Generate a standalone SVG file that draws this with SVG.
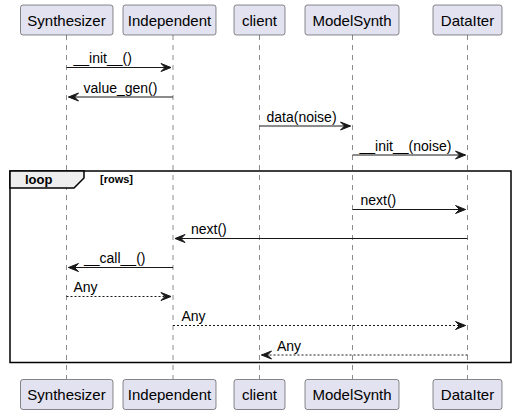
<svg xmlns="http://www.w3.org/2000/svg" width="516" height="415" viewBox="0 0 516 415">
<defs>
<style>
.box{fill:#E2E2F0;stroke:#181818;stroke-width:0.5}
.pt{font-family:"Liberation Sans",Arial,sans-serif;font-size:15px;fill:#000;text-anchor:middle}
.life{stroke:#181818;stroke-width:0.5;stroke-dasharray:5,5;fill:none}
.msg{stroke:#181818;stroke-width:1;fill:none}
.ret{stroke:#181818;stroke-width:1;stroke-dasharray:2,2;fill:none}
.ml{font-family:"Liberation Sans",Arial,sans-serif;font-size:14px;fill:#000}
.head{fill:#181818;stroke:#181818;stroke-width:1}
</style>
</defs>
<rect width="516" height="415" fill="#FFFFFF"/>
<g id="lifelines">
<line class="life" x1="66.5" y1="35" x2="66.5" y2="379"/>
<line class="life" x1="173" y1="35" x2="173" y2="379"/>
<line class="life" x1="259.5" y1="35" x2="259.5" y2="379"/>
<line class="life" x1="352.5" y1="35" x2="352.5" y2="379"/>
<line class="life" x1="467.5" y1="35" x2="467.5" y2="379"/>
</g>
<g id="loop">
<rect x="10" y="171" width="501" height="191.5" fill="none" stroke="#000" stroke-width="1.5"/>
<path d="M10,171 L84,171 L84,178 L74,188 L10,188 Z" fill="#EEEEEE" stroke="#000" stroke-width="1.5"/>
<text x="25" y="183.5" font-family="Liberation Sans,Arial,sans-serif" font-size="13" font-weight="bold">loop</text>
<text x="100" y="183" font-family="Liberation Sans,Arial,sans-serif" font-size="11" font-weight="bold">[rows]</text>
</g>
<g id="Synthesizer">
<rect class="box" x="20.5" y="5" width="92.5" height="30" rx="2.5"/>
<text class="pt" x="66.5" y="25.5">Synthesizer</text>
<rect class="box" x="20.5" y="379.5" width="92.5" height="30" rx="2.5"/>
<text class="pt" x="66.5" y="400">Synthesizer</text>
</g>
<g id="Independent">
<rect class="box" x="123" y="5" width="93" height="30" rx="2.5"/>
<text class="pt" x="169.5" y="25.5">Independent</text>
<rect class="box" x="123" y="379.5" width="93" height="30" rx="2.5"/>
<text class="pt" x="169.5" y="400">Independent</text>
</g>
<g id="client">
<rect class="box" x="234" y="5" width="51" height="30" rx="2.5"/>
<text class="pt" x="259.5" y="25.5">client</text>
<rect class="box" x="234" y="379.5" width="51" height="30" rx="2.5"/>
<text class="pt" x="259.5" y="400">client</text>
</g>
<g id="ModelSynth">
<rect class="box" x="305" y="5" width="94" height="30" rx="2.5"/>
<text class="pt" x="352" y="25.5">ModelSynth</text>
<rect class="box" x="305" y="379.5" width="94" height="30" rx="2.5"/>
<text class="pt" x="352" y="400">ModelSynth</text>
</g>
<g id="DataIter">
<rect class="box" x="433" y="5" width="69" height="30" rx="2.5"/>
<text class="pt" x="467.5" y="25.5">DataIter</text>
<rect class="box" x="433" y="379.5" width="69" height="30" rx="2.5"/>
<text class="pt" x="467.5" y="400">DataIter</text>
</g>
<g id="connectors">
<line class="msg" x1="66.5" y1="67.5" x2="171" y2="67.5"/>
<polygon class="head" points="161,63.5 171,67.5 161,71.5 165,67.5"/>
<text class="ml" x="73.5" y="63">__init__()</text>

<line class="msg" x1="68.5" y1="97" x2="173" y2="97"/>
<polygon class="head" points="78.5,93 68.5,97 78.5,101 74.5,97"/>
<text class="ml" x="83.5" y="92.5">value_gen()</text>

<line class="msg" x1="259.5" y1="126" x2="350.5" y2="126"/>
<polygon class="head" points="340.5,122 350.5,126 340.5,130 344.5,126"/>
<text class="ml" x="266.5" y="121.5">data(noise)</text>

<line class="msg" x1="352.5" y1="155" x2="465.5" y2="155"/>
<polygon class="head" points="455.5,151 465.5,155 455.5,159 459.5,155"/>
<text class="ml" x="359.5" y="150.5">__init__(noise)</text>

<line class="msg" x1="352.5" y1="209.5" x2="465.5" y2="209.5"/>
<polygon class="head" points="455.5,205.5 465.5,209.5 455.5,213.5 459.5,209.5"/>
<text class="ml" x="360.5" y="205">next()</text>

<line class="msg" x1="175" y1="238.5" x2="467.5" y2="238.5"/>
<polygon class="head" points="185,234.5 175,238.5 185,242.5 181,238.5"/>
<text class="ml" x="191" y="234">next()</text>

<line class="msg" x1="68.5" y1="267.5" x2="173" y2="267.5"/>
<polygon class="head" points="78.5,263.5 68.5,267.5 78.5,271.5 74.5,267.5"/>
<text class="ml" x="84" y="263">__call__()</text>

<line class="ret" x1="66.5" y1="296.5" x2="171" y2="296.5"/>
<polygon class="head" points="161,292.5 171,296.5 161,300.5 165,296.5"/>
<text class="ml" x="73.5" y="292">Any</text>

<line class="ret" x1="173" y1="325.5" x2="465.5" y2="325.5"/>
<polygon class="head" points="455.5,321.5 465.5,325.5 455.5,329.5 459.5,325.5"/>
<text class="ml" x="181.5" y="321">Any</text>

<line class="ret" x1="261.5" y1="355" x2="467.5" y2="355"/>
<polygon class="head" points="271.5,351 261.5,355 271.5,359 267.5,355"/>
<text class="ml" x="277" y="350.5">Any</text>
</g>
</svg>
